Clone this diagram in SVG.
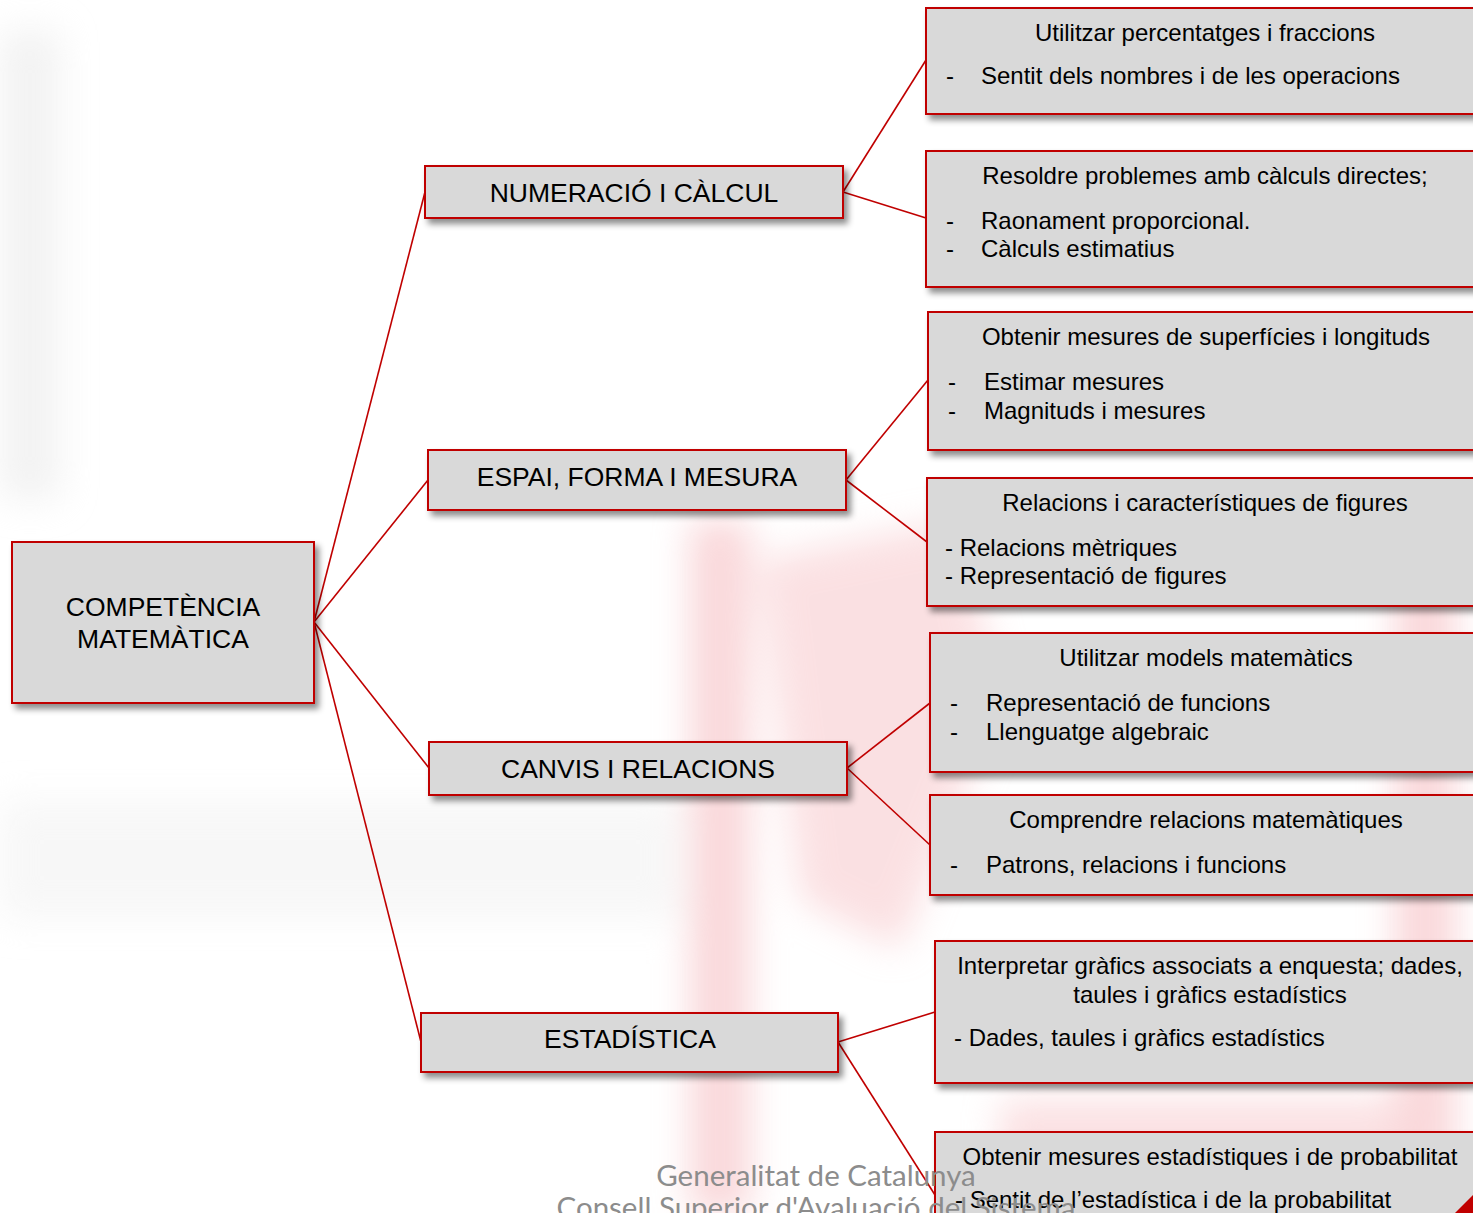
<svg xmlns="http://www.w3.org/2000/svg" width="1473" height="1213" viewBox="0 0 1473 1213">
<defs>
<filter id="sh" x="-10%" y="-20%" width="130%" height="160%">
<feDropShadow dx="4" dy="5" stdDeviation="3" flood-color="#000" flood-opacity="0.45"/>
</filter>
<filter id="blur" x="-50%" y="-50%" width="200%" height="200%">
<feGaussianBlur stdDeviation="18"/>
</filter>
<style>
.box{fill:#d9d9d9;stroke:#c00000;stroke-width:2;filter:url(#sh)}
.t{font-family:"Liberation Sans",Arial,sans-serif;fill:#000;font-size:24px}
.h{font-family:"Liberation Sans",Arial,sans-serif;fill:#000;font-size:26.5px;text-anchor:middle}
.n{font-family:"Liberation Sans Narrow","Arial Narrow","Liberation Sans",sans-serif;fill:#000;font-size:24px}
.m{text-anchor:middle}
.c{stroke:#c00000;stroke-width:1.6;fill:none}
.ft{font-family:Lato,"Open Sans",sans-serif;fill:#8c8c8c;font-size:29.5px;text-anchor:middle}
</style>
</defs>
<rect width="1473" height="1213" fill="#ffffff"/>
<g id="background" filter="url(#blur)" opacity="0.5">
<rect x="0" y="30" width="60" height="470" fill="#e6e6e6"/>
<rect x="0" y="800" width="680" height="120" fill="#f0f0f0"/>
<rect x="690" y="520" width="60" height="693" fill="#f4b0b5"/>
<path d="M760 560 L960 520 L1000 700 L900 950 L800 900 Z" fill="#f7c2c6"/>
<rect x="1000" y="1100" width="420" height="113" fill="#f7c2c6"/>
<rect x="1395" y="560" width="60" height="653" fill="#f4b0b5"/>
</g>
<g id="connectors">
<line class="c" x1="314" y1="622" x2="425" y2="192"/>
<line class="c" x1="314" y1="622" x2="428" y2="480"/>
<line class="c" x1="314" y1="622" x2="429" y2="768"/>
<line class="c" x1="314" y1="622" x2="421" y2="1042"/>
<line class="c" x1="843" y1="192" x2="926" y2="60"/>
<line class="c" x1="843" y1="192" x2="926" y2="218"/>
<line class="c" x1="846" y1="480" x2="928" y2="380"/>
<line class="c" x1="846" y1="480" x2="927" y2="542"/>
<line class="c" x1="847" y1="768" x2="930" y2="703"/>
<line class="c" x1="847" y1="768" x2="930" y2="845"/>
<line class="c" x1="838" y1="1042" x2="935" y2="1012"/>
<line class="c" x1="838" y1="1042" x2="935" y2="1195"/>
</g>
<g id="root">
<rect class="box" x="12" y="542" width="302" height="161"/>
<text class="h" x="163" y="616">COMPETÈNCIA</text>
<text class="h" x="163" y="648">MATEMÀTICA</text>
</g>
<g id="numeracio">
<rect class="box" x="425" y="166" width="418" height="52"/>
<text class="h" x="634" y="202">NUMERACIÓ I CÀLCUL</text>
</g>
<g id="espai">
<rect class="box" x="428" y="450" width="418" height="60"/>
<text class="h" x="637" y="486">ESPAI, FORMA I MESURA</text>
</g>
<g id="canvis">
<rect class="box" x="429" y="742" width="418" height="53"/>
<text class="h" x="638" y="778">CANVIS I RELACIONS</text>
</g>
<g id="estadistica">
<rect class="box" x="421" y="1013" width="417" height="59"/>
<text class="h" x="630" y="1048">ESTADÍSTICA</text>
</g>
<g id="n1">
<rect class="box" x="926" y="8" width="560" height="106"/>
<text class="n m" x="1205" y="41">Utilitzar percentatges i fraccions</text>
<text class="n" x="946" y="84">-</text>
<text class="n" x="981" y="84">Sentit dels nombres i de les operacions</text>
</g>
<g id="n2">
<rect class="box" x="926" y="151" width="560" height="136"/>
<text class="n m" x="1205" y="184">Resoldre problemes amb càlculs directes;</text>
<text class="n" x="946" y="229">-</text>
<text class="n" x="981" y="229">Raonament proporcional.</text>
<text class="n" x="946" y="257">-</text>
<text class="n" x="981" y="257">Càlculs estimatius</text>
</g>
<g id="e1">
<rect class="box" x="928" y="312" width="560" height="138"/>
<text class="t m" x="1206" y="345">Obtenir mesures de superfícies i longituds</text>
<text class="t" x="948" y="390">-</text>
<text class="t" x="984" y="390">Estimar mesures</text>
<text class="t" x="948" y="419">-</text>
<text class="t" x="984" y="419">Magnituds i mesures</text>
</g>
<g id="e2">
<rect class="box" x="927" y="478" width="560" height="128"/>
<text class="t m" x="1205" y="511">Relacions i característiques de figures</text>
<text class="t" x="945" y="556">- Relacions mètriques</text>
<text class="t" x="945" y="584">- Representació de figures</text>
</g>
<g id="c1">
<rect class="box" x="930" y="633" width="560" height="139"/>
<text class="t m" x="1206" y="666">Utilitzar models matemàtics</text>
<text class="t" x="950" y="711">-</text>
<text class="t" x="986" y="711">Representació de funcions</text>
<text class="t" x="950" y="740">-</text>
<text class="t" x="986" y="740">Llenguatge algebraic</text>
</g>
<g id="c2">
<rect class="box" x="930" y="795" width="560" height="100"/>
<text class="t m" x="1206" y="828">Comprendre relacions matemàtiques</text>
<text class="t" x="950" y="873">-</text>
<text class="t" x="986" y="873">Patrons, relacions i funcions</text>
</g>
<g id="s1">
<rect class="box" x="935" y="941" width="560" height="142"/>
<text class="t m" x="1210" y="974">Interpretar gràfics associats a enquesta; dades,</text>
<text class="t m" x="1210" y="1003">taules i gràfics estadístics</text>
<text class="t" x="954" y="1046">- Dades, taules i gràfics estadístics</text>
</g>
<g id="s2">
<rect class="box" x="935" y="1132" width="560" height="120"/>
<text class="n m" x="1210" y="1165">Obtenir mesures estadístiques i de probabilitat</text>
<text class="n" x="955" y="1208">- Sentit de l’estadística i de la probabilitat</text>
</g>
<path d="M1473 1195 L1473 1213 L1455 1213 Z" fill="#c00000"/>
<g id="footer">
<text class="ft" x="816" y="1186">Generalitat de Catalunya</text>
<text class="ft" x="816" y="1218">Consell Superior d'Avaluació del Sistema</text>
</g>
</svg>
